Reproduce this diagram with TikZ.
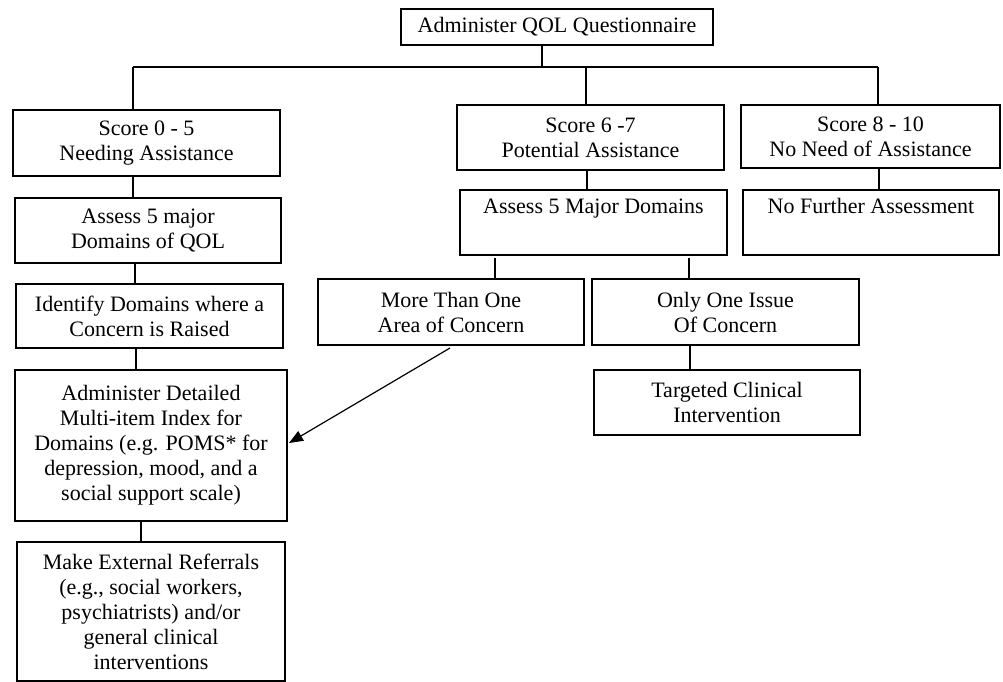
\documentclass[tikz,border=0pt]{standalone}
\usepackage{fontspec}
\setmainfont{Liberation Serif}
\usetikzlibrary{arrows.meta}
\begin{document}
\begin{tikzpicture}[x=1pt,y=-1pt,
  box/.style={draw, line width=1.5pt, rectangle, inner sep=0pt, align=center,
    font=\fontsize{22}{25}\selectfont},
  link/.style={line width=1.5pt},
  arr/.style={line width=1.2pt, -{Triangle[length=14pt,width=11pt]}}]
\useasboundingbox (0,0) rectangle (1003,682);
\node[box, minimum width=312pt, minimum height=36pt] (q) at (557,27) {Administer QOL Questionnaire};
\node[box, minimum width=267pt, minimum height=66pt] (s1) at (146.5,143) {Score 0 - 5\\Needing Assistance};
\node[box, minimum width=267pt, minimum height=65pt] (s2) at (590.5,137.5) {Score 6 -7\\Potential Assistance};
\node[box, minimum width=259pt, minimum height=63pt] (s3) at (870.5,136.5) {Score 8 - 10\\No Need of Assistance};
\node[box, minimum width=266pt, minimum height=65pt] (a1) at (148,230.5) {Assess 5 major\\Domains of QOL};
\node[box, minimum width=267pt, minimum height=65pt] (a2) at (593.5,222.5) {Assess 5 Major Domains\\\strut};
\node[box, minimum width=256pt, minimum height=65pt] (nf) at (871,222.5) {No Further Assessment\\\strut};
\node[box, minimum width=267pt, minimum height=64pt] (id) at (149.5,316) {Identify Domains where a\\Concern is Raised};
\node[box, minimum width=266pt, minimum height=66pt] (m1) at (451,312) {More Than One\\Area of Concern};
\node[box, minimum width=267pt, minimum height=66pt] (o1) at (725.5,312) {Only One Issue\\Of Concern};
\node[box, minimum width=266pt, minimum height=65pt] (tg) at (727,402.5) {Targeted Clinical\\Intervention};
\node[box, minimum width=272pt, minimum height=151pt] (dt) at (151,445.5) {Administer Detailed\\Multi-item Index for\\Domains (e.g. POMS* for\\depression, mood, and a\\social support scale)};
\node[box, minimum width=268pt, minimum height=139pt] (mk) at (151,611.5) {Make External Referrals\\(e.g., social workers,\\psychiatrists) and/or\\general clinical\\interventions};
% bus
\coordinate (j0) at (542,67);
\coordinate (jL) at (133,67);
\coordinate (jM) at (586,67);
\coordinate (jR) at (878,67);
\draw[link] (j0 |- q.south) -- (j0);
\draw[link] (jL) -- (jR);
\draw[link] (jL) -- (jL |- s1.north);
\draw[link] (jM) -- (jM |- s2.north);
\draw[link] (jR) -- (jR |- s3.north);
% left column
\coordinate (c1) at (133,0);
\coordinate (c2) at (135,0);
\coordinate (c3) at (136,0);
\coordinate (c4) at (141,0);
\draw[link] (c1 |- s1.south) -- (c1 |- a1.north);
\draw[link] (c2 |- a1.south) -- (c2 |- id.north);
\draw[link] (c3 |- id.south) -- (c3 |- dt.north);
\draw[link] (c4 |- dt.south) -- (c4 |- mk.north);
% middle and right
\coordinate (c5) at (587,0);
\coordinate (c6) at (879,0);
\coordinate (c7) at (495,258);
\coordinate (c8) at (689,258);
\coordinate (c9) at (690,0);
\draw[link] (c5 |- s2.south) -- (c5 |- a2.north);
\draw[link] (c6 |- s3.south) -- (c6 |- nf.north);
\draw[link] (c7) -- (c7 |- m1.north);
\draw[link] (c8) -- (c8 |- o1.north);
\draw[link] (c9 |- o1.south) -- (c9 |- tg.north);
% arrow
\coordinate (as) at (450,348);
\coordinate (ae) at (289,443);
\draw[arr] (as) -- (ae);
\end{tikzpicture}
\end{document}
